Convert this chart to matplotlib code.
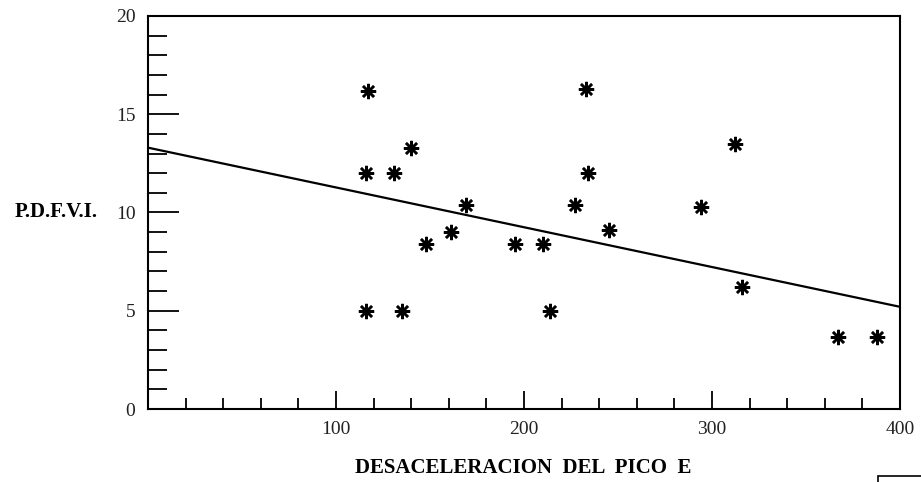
import matplotlib
matplotlib.use("Agg")
import matplotlib.pyplot as plt
from matplotlib.ticker import MultipleLocator, FixedLocator
from matplotlib.patches import Rectangle

# Data
desaceleracion = [117, 140, 116, 131, 169, 161, 148, 195, 233, 312, 234,
                  227, 294, 245, 210, 316, 214, 367, 388, 116, 135]
pdfvi = [16.2, 13.3, 12.0, 12.0, 10.4, 9.0, 8.4, 8.4, 16.3, 13.5, 12.0,
         10.4, 10.3, 9.1, 8.4, 6.2, 5.0, 3.65, 3.65, 5.0, 5.0]
fit_x = [0, 400]
fit_y = [13.3, 5.2]
x_ticks = [100, 200, 300, 400]
y_ticks = [0, 5, 10, 15, 20]

plt.rcParams['font.family'] = ['Liberation Serif', 'DejaVu Serif']

fig = plt.figure(figsize=(9.21, 4.82), dpi=100)
ax = fig.add_axes([148/921, 1-409/482, 752/921, 393/482])

ax.plot(fit_x, fit_y, color='black', lw=1.6, solid_capstyle='butt')
ax.plot(desaceleracion, pdfvi, linestyle='none', marker=(8, 2, 0),
        markersize=11, markeredgewidth=1.8, color='black')
ax.plot(desaceleracion, pdfvi, linestyle='none', marker='o',
        markersize=4, color='black')

ax.set_xlim(0, 400)
ax.set_ylim(0, 20)

ax.xaxis.set_major_locator(FixedLocator(x_ticks))
ax.xaxis.set_minor_locator(MultipleLocator(20))
ax.yaxis.set_major_locator(FixedLocator(y_ticks))
ax.yaxis.set_minor_locator(MultipleLocator(1))

ax.tick_params(axis='x', which='major', direction='in', length=13, width=1.3,
               labelsize=14, pad=9, top=False)
ax.tick_params(axis='x', which='minor', direction='in', length=8, width=1.3,
               top=False)
ax.tick_params(axis='y', which='major', direction='in', length=22, width=1.3,
               labelsize=14, pad=9, right=False)
ax.tick_params(axis='y', which='minor', direction='in', length=14, width=1.3,
               right=False)
for lab in ax.get_xticklabels() + ax.get_yticklabels():
    lab.set_color('#222222')

for sp in ax.spines.values():
    sp.set_linewidth(1.5)

fig.text(15/921, 1-212/482, 'P.D.F.V.I.', fontsize=15, fontweight='bold',
         ha='left', va='center')
fig.text(523/921, 1-468/482, 'DESACELERACION  DEL  PICO  E', fontsize=15,
         fontweight='bold', ha='center', va='center')

# partial box at lower right corner
fig.patches.append(Rectangle((878/921, -0.05), 0.2, 0.05 + 6/482,
                             transform=fig.transFigure, fill=False,
                             edgecolor='black', lw=1.2))

fig.savefig('out.png', dpi=100)
